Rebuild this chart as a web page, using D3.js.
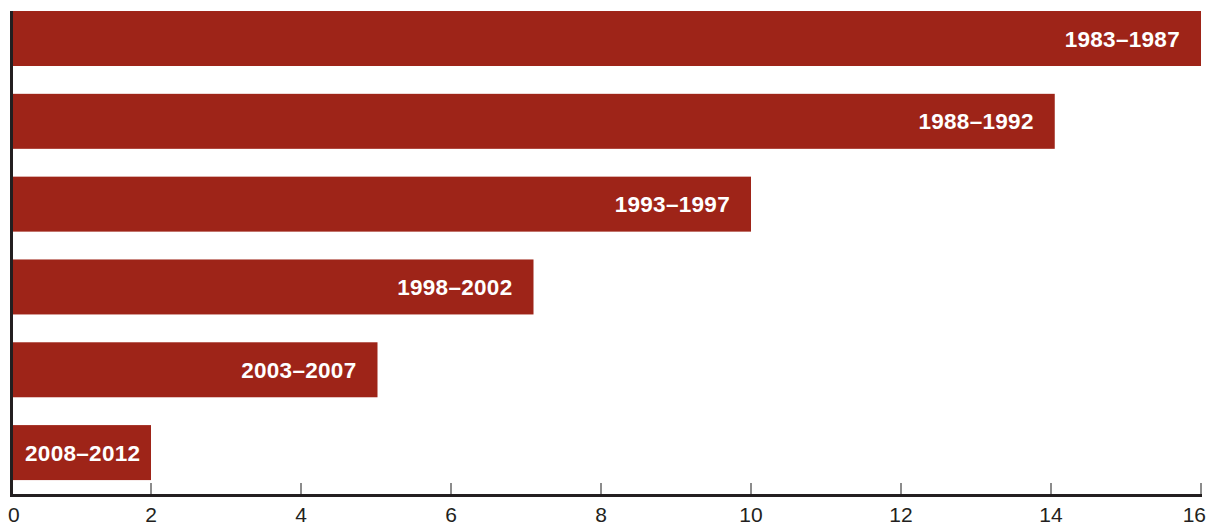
<!DOCTYPE html>
<html>
<head>
<meta charset="utf-8">
<script src="https://cdn.jsdelivr.net/npm/d3@7"></script>
<style>
  html, body { margin: 0; padding: 0; background: #ffffff; }
  svg { display: block; }
  text { font-family: "Liberation Sans", Arial, Helvetica, sans-serif; }
</style>
</head>
<body>
<svg id="chart" width="1208" height="527"></svg>
<script>
// Five-year periods, top to bottom, and the bar length for each
const periods = ["1983–1987", "1988–1992", "1993–1997", "1998–2002", "2003–2007", "2008–2012"];
const values  = [16, 14.05, 10, 7.1, 5.02, 2];
const xTicks  = [0, 2, 4, 6, 8, 10, 12, 14, 16];

const svg = d3.select("#chart");

const x = d3.scaleLinear().domain([0, 16]).range([1, 1201]);
const y = d3.scaleBand().domain(periods).range([-2.9, 494]).paddingInner(0.336).paddingOuter(0.168);

const axisX = 13;      // right edge of the vertical axis rule
const baseY = 494;     // top edge of the horizontal axis rule
const barColor = "#9e2418";

// Bars
svg.append("g").selectAll("rect")
  .data(periods)
  .join("rect")
  .attr("x", axisX)
  .attr("y", d => y(d))
  .attr("width", (d, i) => x(values[i]) - axisX)
  .attr("height", y.bandwidth())
  .attr("fill", barColor);

// Period labels inside the bars, right-aligned near the bar end
const labels = svg.append("g").selectAll("text")
  .data(periods)
  .join("text")
  .attr("y", d => y(d) + y.bandwidth() / 2 + 8)
  .attr("fill", "#ffffff")
  .attr("font-size", 22.5)
  .attr("font-weight", "bold")
  .attr("letter-spacing", 0.3)
  .attr("text-anchor", "end")
  .text(d => d);
labels.each(function (d, i) {
  const w = this.getComputedTextLength();
  const end = Math.max(x(values[i]) - 21, axisX + 12 + w);
  d3.select(this).attr("x", end);
});

// Tick marks along the bottom axis
svg.append("g").selectAll("line")
  .data(xTicks.slice(1))
  .join("line")
  .attr("x1", d => x(d)).attr("x2", d => x(d))
  .attr("y1", baseY - 11).attr("y2", baseY)
  .attr("stroke", "#666")
  .attr("stroke-width", 1.5);

// Axis rules
svg.append("line")
  .attr("x1", axisX - 1.5).attr("x2", axisX - 1.5)
  .attr("y1", 11).attr("y2", baseY + 3)
  .attr("stroke", "#231f20").attr("stroke-width", 3);
svg.append("line")
  .attr("x1", axisX - 3).attr("x2", x(16) + 1)
  .attr("y1", baseY + 1.5).attr("y2", baseY + 1.5)
  .attr("stroke", "#231f20").attr("stroke-width", 3);

// Tick labels
svg.append("g").selectAll("text")
  .data(xTicks)
  .join("text")
  .attr("x", (d, i) => i === 0 ? 8 : (i === xTicks.length - 1 ? 1206 : x(d)))
  .attr("text-anchor", (d, i) => i === 0 ? "start" : (i === xTicks.length - 1 ? "end" : "middle"))
  .attr("y", 522)
  .attr("font-size", 21)
  .attr("fill", "#231f20")
  .text(d => d);
</script>
</body>
</html>
